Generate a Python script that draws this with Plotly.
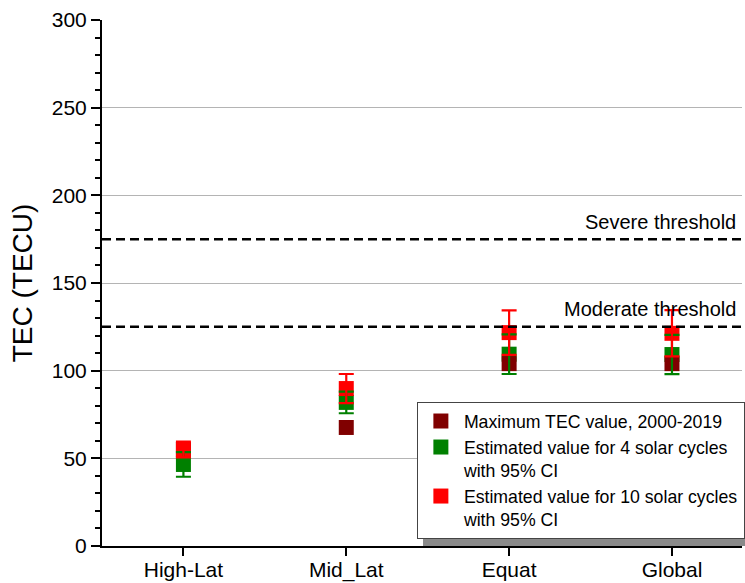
import plotly.graph_objects as go

categories = ["High-Lat", "Mid_Lat", "Equat", "Global"]
max_tec = [55, 67.6, 104, 104]
est4 = [46.5, 81.9, 109.4, 109.2]
est4_ci = [7, 6.2, 11.3, 11.2]
est10 = [55, 89.8, 121.7, 121.3]
est10_ci = [4.5, 8.3, 12.7, 13.2]
thresholds = [175, 125]
threshold_labels = ["Severe threshold", "Moderate threshold"]

C_MAX = "#800000"
C_G = "#008000"
C_R = "#ff0000"
FONT = "Arial, Liberation Sans, sans-serif"

fig = go.Figure()
ms = 15
fig.add_trace(go.Scatter(x=categories, y=est4, mode="markers", legendrank=2,
                         name="Estimated value for 4 solar cycles<br>with 95% CI",
                         marker=dict(symbol="square", size=ms, color=C_G, line=dict(width=0))))
fig.add_trace(go.Scatter(x=categories, y=max_tec, mode="markers", legendrank=1,
                         name="Maximum TEC value, 2000-2019",
                         marker=dict(symbol="square", size=ms, color=C_MAX, line=dict(width=0))))
fig.add_trace(go.Scatter(x=categories, y=est10, mode="markers", legendrank=3,
                         name="Estimated value for 10 solar cycles<br>with 95% CI",
                         marker=dict(symbol="square", size=ms, color=C_R, line=dict(width=0))))
# error bars drawn above all markers
fig.add_trace(go.Scatter(x=categories, y=est4, mode="markers", showlegend=False,
                         marker=dict(size=1, color="rgba(0,0,0,0)"),
                         error_y=dict(type="data", array=est4_ci, color=C_G, thickness=2.2, width=7.5)))
fig.add_trace(go.Scatter(x=categories, y=est10, mode="markers", showlegend=False,
                         marker=dict(size=1, color="rgba(0,0,0,0)"),
                         error_y=dict(type="data", array=est10_ci, color=C_R, thickness=2.2, width=7.5)))

shapes = []
annotations = []
for v, lab in zip(thresholds, threshold_labels):
    shapes.append(dict(type="line", xref="paper", x0=0, x1=1, yref="y", y0=v, y1=v,
                       line=dict(color="black", width=2.5, dash="9px,5px"), layer="above"))
    annotations.append(dict(text=lab, xref="paper", x=0.993, xanchor="right", yref="y", y=v,
                            yanchor="middle", yshift=17.5, showarrow=False,
                            font=dict(family=FONT, size=20, color="black")))

# legend shadow
shapes.append(dict(type="rect", xref="paper", yref="paper", x0=0.5016, x1=1.02, y0=0.0, y1=0.1,
                   fillcolor="#8a8a8a", line=dict(width=0), layer="above"))

fig.update_layout(
    width=745, height=583,
    margin=dict(l=102, r=3, t=20, b=37, autoexpand=False),
    paper_bgcolor="white", plot_bgcolor="white",
    font=dict(family=FONT, color="black"),
    showlegend=True,
    legend=dict(x=0.492, y=0.0133, xanchor="left", yanchor="bottom",
                bgcolor="white", bordercolor="#444", borderwidth=1,
                font=dict(family=FONT, size=17.7, color="black"),
                valign="top", tracegroupgap=0, itemwidth=36),
    shapes=shapes, annotations=annotations,
)
fig.update_xaxes(type="category", range=[-0.5, 3.43], showline=True, linecolor="black", linewidth=2,
                 ticks="outside", ticklen=8, tickwidth=2, tickcolor="black", showgrid=False,
                 automargin=False,
                 tickfont=dict(family=FONT, size=21, color="black"), ticklabelstandoff=-4)
fig.update_yaxes(range=[0, 300], tickvals=[0, 50, 100, 150, 200, 250, 300],
                 showline=True, linecolor="black", linewidth=2, automargin=False,
                 ticks="outside", ticklen=9, tickwidth=2, tickcolor="black",
                 showgrid=True, gridcolor="#b4b4b4", gridwidth=1, zeroline=False,
                 minor=dict(dtick=10, ticks="outside", ticklen=5, tickwidth=1.5, tickcolor="black", showgrid=False),
                 tickfont=dict(family=FONT, size=21, color="black"),
                 title=dict(text="TEC (TECU)", font=dict(family=FONT, size=28, color="black"), standoff=11))

fig.write_html("out.html")
